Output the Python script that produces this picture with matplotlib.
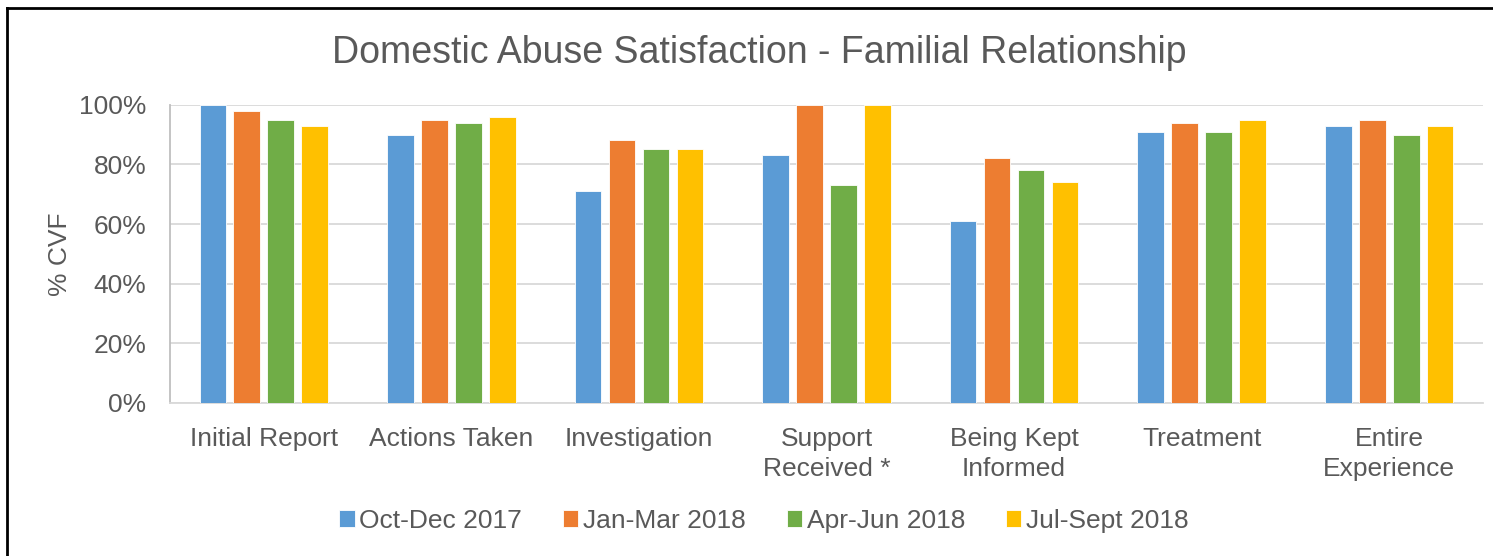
import matplotlib
matplotlib.use('Agg')
import matplotlib.pyplot as plt
import numpy as np
from matplotlib.lines import Line2D
from matplotlib.ticker import PercentFormatter

categories = ['Initial Report', 'Actions Taken', 'Investigation', 'Support\nReceived *',
              'Being Kept\nInformed', 'Treatment', 'Entire\nExperience']
series_names = ['Oct-Dec 2017', 'Jan-Mar 2018', 'Apr-Jun 2018', 'Jul-Sept 2018']
oct_dec_2017 = [100, 90, 71, 83, 61, 91, 93]
jan_mar_2018 = [98, 95, 88, 100, 82, 94, 95]
apr_jun_2018 = [95, 94, 85, 73, 78, 91, 90]
jul_sept_2018 = [93, 96, 85, 100, 74, 95, 93]
colors = ['#5B9BD5', '#ED7D31', '#70AD47', '#FFC000']


def main():
    plt.rcParams['font.family'] = ['Liberation Sans', 'DejaVu Sans']
    text_col = '#595959'

    fig = plt.figure(figsize=(14.93, 5.56), dpi=100)
    ax = fig.add_axes([170 / 1493, 1 - 403 / 556, (1483 - 170) / 1493, (403 - 104.7) / 556])

    xs = np.arange(len(categories))
    width = 0.142
    step = 0.181
    all_series = [oct_dec_2017, jan_mar_2018, apr_jun_2018, jul_sept_2018]
    for i, (name, vals) in enumerate(zip(series_names, all_series)):
        ax.bar(xs + (i - 1.5) * step, vals, width, color=colors[i], label=name,
               edgecolor='white', linewidth=0.6, zorder=3)

    ax.set_xlim(-0.5, len(categories) - 0.5)
    ax.set_ylim(0, 100)
    ax.set_yticks(np.arange(0, 101, 20))
    ax.yaxis.set_major_formatter(PercentFormatter(decimals=0))
    ax.grid(axis='y', color='#D9D9D9', linewidth=1.3, zorder=0)
    ax.set_xticks(xs)
    ax.set_xticklabels(categories, fontsize=19, color=text_col, linespacing=1.32)
    ax.tick_params(axis='x', length=0, pad=17)
    ax.tick_params(axis='y', length=0, pad=17, labelsize=19, labelcolor=text_col)
    for side in ['top', 'right']:
        ax.spines[side].set_visible(False)
    ax.spines['left'].set_color('#BFBFBF')
    ax.spines['left'].set_linewidth(1.3)
    ax.spines['bottom'].set_color('#D9D9D9')
    ax.spines['bottom'].set_linewidth(1.3)
    ax.set_ylabel('% CVF', fontsize=19, color=text_col, labelpad=5)

    fig.text(759 / 1493, 1 - 63 / 556, 'Domestic Abuse Satisfaction - Familial Relationship',
             fontsize=27, color=text_col, ha='center', va='baseline')

    fig.legend(loc='center', bbox_to_anchor=(764 / 1493, 1 - 521 / 556), ncol=4,
               frameon=False, fontsize=19, labelcolor=text_col,
               handlelength=0.58, handleheight=0.58, handletextpad=0.18,
               columnspacing=1.55)

    # chart border (only top and left edges fall inside the image)
    fig.add_artist(Line2D([6.5 / 1493, 6.5 / 1493], [0, 1 - 7.5 / 556],
                          transform=fig.transFigure, color='black', linewidth=2))
    fig.add_artist(Line2D([6.5 / 1493, 1], [1 - 7.5 / 556, 1 - 7.5 / 556],
                          transform=fig.transFigure, color='black', linewidth=2))

    fig.savefig('out.png', dpi=100)


if __name__ == '__main__':
    main()
